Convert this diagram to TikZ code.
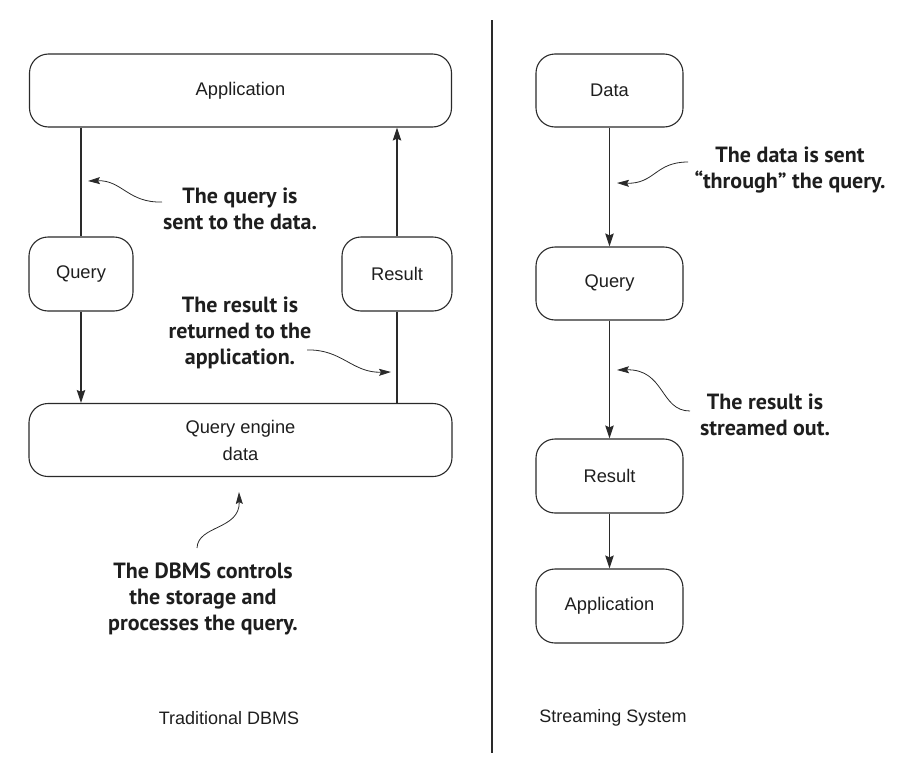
\documentclass[tikz,border=0pt]{standalone}
\usepackage{fontspec}
\setmainfont{Liberation Sans}
\newfontfamily\annfont{PT Sans}
\usetikzlibrary{arrows.meta}
\definecolor{ln}{HTML}{2A2A2A}
\definecolor{tx}{HTML}{1E1E1E}
\tikzset{
  box/.style={draw=ln, line width=1.1pt, rounded corners=19pt, align=center,
    font=\fontsize{18.3}{27}\selectfont, text=tx, inner sep=0pt},
  flow/.style={draw=ln, line width=1.1pt, -{Stealth[length=13pt,width=8.5pt,inset=2pt]}},
  plain/.style={draw=ln, line width=1.1pt},
  ann/.style={align=center, font=\annfont\bfseries\fontsize{22}{26}\selectfont, text=tx, inner sep=0pt},
  annarrow/.style={draw=ln, line width=0.8pt, -{Stealth[length=12pt,width=7pt,inset=2pt]}},
  captext/.style={font=\fontsize{18}{22}\selectfont, text=tx, inner sep=0pt}
}
\begin{document}
\begin{tikzpicture}[x=1pt,y=-1pt]
\useasboundingbox (0,0) rectangle (911,763);
% divider
\coordinate (dtop) at (492,20);
\coordinate (dbot) at (492,753);
\draw[plain] (dtop) -- (dbot);

% ---- left: Traditional DBMS
\node[box, minimum width=422pt, minimum height=73pt] (app) at (240.5,90.5) {Application};
\node[box, minimum width=104pt, minimum height=74pt] (qry) at (81,274) {Query};
\node[box, minimum width=110pt, minimum height=74pt] (res) at (397,274) {Result};
\node[box, minimum width=423pt, minimum height=73pt] (eng) at (240.5,440) {Query engine\\data};

\draw[plain] (app.south -| qry.north) -- (qry.north);
\draw[flow] (qry.south) -- (eng.north -| qry.south);
\draw[plain] (eng.north -| res.south) -- (res.south);
\draw[flow] (res.north) -- (app.south -| res.north);

\node[ann] (a1) at (240,209) {The query is\\sent to the data.};
\coordinate (a1s) at (162,202);
\coordinate (a1e) at (88,181);
\draw[annarrow] (a1s) .. controls (128,203) and (122,180) .. (a1e);

\node[ann] (a2) at (240,333) {The result is\\returned to the\\application.};
\coordinate (a2s) at (307,350);
\coordinate (a2e) at (391,372);
\draw[annarrow] (a2s) .. controls (342,349) and (352,373) .. (a2e);

\node[ann] (a3) at (203,599) {The DBMS controls\\the storage and\\processes the query.};
\coordinate (a3s) at (197,548);
\coordinate (a3e) at (239,492);
\draw[annarrow] (a3s) .. controls (198,525) and (240,530) .. (a3e);

\node[captext] (c1) at (229,718) {Traditional DBMS};

% ---- right: Streaming System
\node[box, minimum width=147pt, minimum height=73pt] (sd) at (609.5,90.5) {Data};
\node[box, minimum width=147pt, minimum height=73pt] (sq) at (609.5,283.5) {Query};
\node[box, minimum width=147pt, minimum height=74pt] (sr) at (609.5,476) {Result};
\node[box, minimum width=147pt, minimum height=74pt] (sa) at (609.5,606) {Application};

\draw[flow] (sd) -- (sq);
\draw[flow] (sq) -- (sr);
\draw[flow] (sr) -- (sa);

\node[ann] (a4) at (790,170.5) {The data is sent\\“through” the query.};
\coordinate (a4s) at (688,162);
\coordinate (a4e) at (617,183);
\draw[annarrow] (a4s) .. controls (655,162) and (655,184) .. (a4e);

\node[ann] (a5) at (765,415) {The result is\\streamed out.};
\coordinate (a5s) at (690,411);
\coordinate (a5e) at (617,370);
\draw[annarrow] (a5s) .. controls (660,411) and (665,369) .. (a5e);

\node[captext] (c2) at (613,718) {Streaming System};
\end{tikzpicture}
\end{document}
